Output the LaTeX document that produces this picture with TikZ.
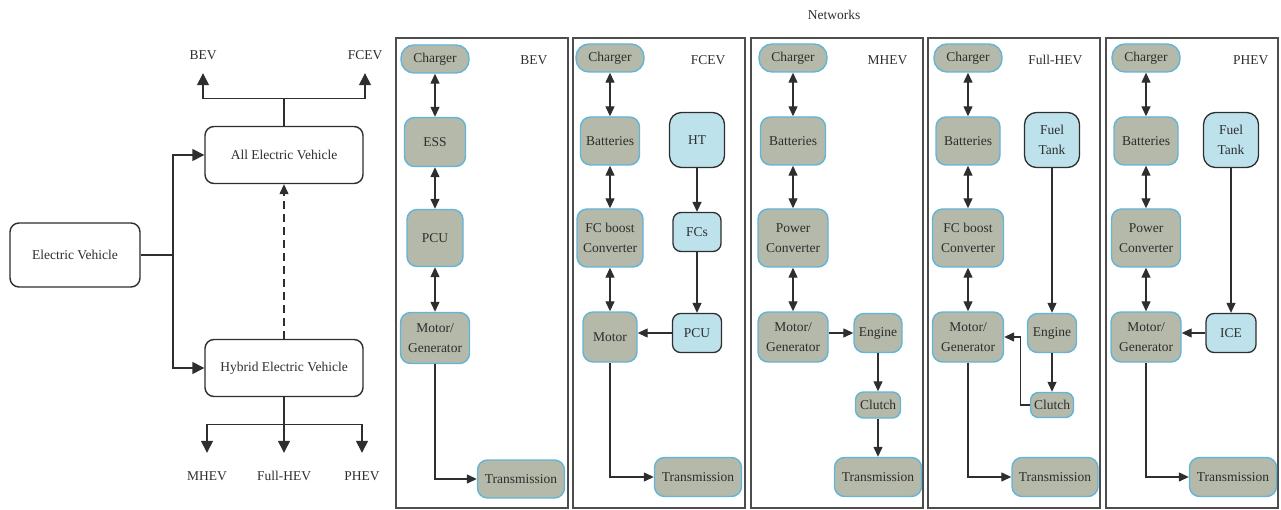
\documentclass[tikz,border=0pt]{standalone}
\usepackage{fontspec}
\setmainfont{Liberation Serif}
\usepackage{xcolor}
\usepackage{tikz}
\usetikzlibrary{arrows.meta,calc}

\definecolor{compfill}{HTML}{B4B9A9}
\definecolor{compedge}{HTML}{62B4D8}
\definecolor{fuelfill}{HTML}{BDE2EC}
\definecolor{inkgray}{HTML}{2E2E2E}

\tikzset{
  evbox/.style={draw=inkgray, line width=1.4pt, rounded corners=9pt, fill=white, text=inkgray},
  unit/.style={draw=compedge, line width=1.4pt, fill=compfill, rounded corners=10pt, text=inkgray, align=center, inner sep=2pt},
  charger/.style={unit, rounded corners=13pt, minimum width=68pt, minimum height=28pt},
  fuel/.style={draw=inkgray, line width=1.3pt, fill=fuelfill, rounded corners=10pt, text=inkgray, align=center, inner sep=2pt},
  boxsize/.style 2 args={minimum width=#1pt, minimum height=#2pt},
  flow/.style={draw=inkgray, line width=1.3pt, -{Triangle[length=10pt,width=9pt]}},
  twoway/.style={flow, {Triangle[length=10pt,width=9pt]}-{Triangle[length=10pt,width=9pt]}},
  branch/.style={draw=inkgray, line width=1.4pt, -{Triangle[length=12pt,width=12pt]}},
  leaf/.style={text=inkgray, text height=9pt, text depth=0pt, inner sep=3pt},
  panel/.style={draw=inkgray!85, line width=1.2pt},
}

\begin{document}
\begin{tikzpicture}[x=1pt, y=-1pt, font=\fontsize{13.5}{19.5}\selectfont]
    \useasboundingbox (0,0) rectangle (1281,510);

    % Classification tree
    \node[evbox, boxsize={130}{64}] (ev) at (75,255) {Electric Vehicle};
    \node[evbox, boxsize={158}{57}] (aev) at (284,155) {All Electric Vehicle};
    \node[evbox, boxsize={158}{57}] (hev) at (284,368) {Hybrid Electric Vehicle};
    \coordinate (split) at (173,255);

    \node[leaf] (lbev) at (203,55) {BEV};
    \node[leaf] (lfcev) at (365,55) {FCEV};
    \node[leaf] (lmhev) at (207,476) {MHEV};
    \node[leaf] (lfull) at (284,476) {Full-HEV};
    \node[leaf] (lphev) at (362,476) {PHEV};

    \draw[branch] (ev.east) -- (split) |- (aev.west);
    \draw[branch] (split) |- (hev.west);
    \draw[flow, dash pattern=on 8pt off 5pt] (hev.north) -- (aev.south);
    \draw[branch, shorten >=10.5pt] (aev.north) -- ++(0,-27) -| (lbev.south);
    \draw[branch, shorten >=10.5pt] (aev.north) -- ++(0,-27) -| (lfcev.south);
    \draw[branch, shorten >=15.5pt] (hev.south) -- ++(0,27) -| (lmhev.north);
    \draw[branch, shorten >=15.5pt] (hev.south) -- (lfull.north);
    \draw[branch, shorten >=15.5pt] (hev.south) -- ++(0,27) -| (lphev.north);

    % Networks
    \node[text=inkgray] (net) at (834,15) {Networks};
    \foreach \px/\vname/\lx in {396/BEV/551, 573/FCEV/729, 751/MHEV/911, 928/Full-HEV/1086, 1106/PHEV/1272} {
        \draw[panel] (\px,38) rectangle (\px+172,508);
        \node[anchor=east, text=inkgray] (tag\vname) at (\lx,60) {\vname};
    }

    % BEV
    \node[charger] (bchg) at (435,59) {Charger};
    \node[unit, boxsize={61}{49}] (bess) at (435,142) {ESS};
    \node[unit, boxsize={56}{57}] (bpcu) at (435,238) {PCU};
    \node[unit, boxsize={69}{51}] (bmot) at (435,338) {Motor/\\Generator};
    \node[unit, boxsize={87}{38}] (btra) at (521,479) {Transmission};

    % FCEV
    \node[charger] (fchg) at (610,58) {Charger};
    \node[unit, boxsize={59}{48}] (fbat) at (610,141) {Batteries};
    \node[fuel, boxsize={55}{55}, rounded corners=12pt] (fht) at (697,140) {HT};
    \node[unit, boxsize={66}{58}] (fboo) at (610,238) {FC boost\\Converter};
    \node[fuel, boxsize={48}{39}, rounded corners=8pt] (ffcs) at (697,232) {FCs};
    \node[unit, boxsize={54}{50}] (fmot) at (610,337) {Motor};
    \node[fuel, boxsize={49}{39}, rounded corners=8pt] (fpcu) at (697,333) {PCU};
    \node[unit, boxsize={87}{39}] (ftra) at (698,477) {Transmission};

    % MHEV
    \node[charger] (mchg) at (793,58) {Charger};
    \node[unit, boxsize={65}{48}] (mbat) at (793,141) {Batteries};
    \node[unit, boxsize={70}{58}] (mcon) at (793,238) {Power\\Converter};
    \node[unit, boxsize={70}{50}] (mmot) at (793,337) {Motor/\\Generator};
    \node[unit, boxsize={48}{39}] (meng) at (878,333) {Engine};
    \node[unit, boxsize={45}{26}, rounded corners=8pt] (mclu) at (878,405) {Clutch};
    \node[unit, boxsize={87}{39}] (mtra) at (878,477) {Transmission};

    % Full-HEV
    \node[charger] (hchg) at (968,58) {Charger};
    \node[unit, boxsize={64}{48}] (hbat) at (968,141) {Batteries};
    \node[fuel, boxsize={55}{55}, rounded corners=12pt] (htank) at (1052,140) {Fuel\\Tank};
    \node[unit, boxsize={71}{58}] (hboo) at (968,238) {FC boost\\Converter};
    \node[unit, boxsize={71}{50}] (hmot) at (968,337) {Motor/\\Generator};
    \node[unit, boxsize={49}{39}] (heng) at (1052,333) {Engine};
    \node[unit, boxsize={43}{25}, rounded corners=8pt] (hclu) at (1052,405) {Clutch};
    \node[unit, boxsize={86}{39}] (htra) at (1055,477) {Transmission};

    % PHEV
    \node[charger] (pchg) at (1146,58) {Charger};
    \node[unit, boxsize={64}{48}] (pbat) at (1146,141) {Batteries};
    \node[fuel, boxsize={55}{55}, rounded corners=12pt] (ptank) at (1231,140) {Fuel\\Tank};
    \node[unit, boxsize={69}{58}] (pcon) at (1146,238) {Power\\Converter};
    \node[unit, boxsize={70}{50}] (pmot) at (1146,337) {Motor/\\Generator};
    \node[fuel, boxsize={50}{39}, rounded corners=8pt] (pice) at (1231,333) {ICE};
    \node[unit, boxsize={87}{39}] (ptra) at (1233,477) {Transmission};

    % Connections
    \foreach \a/\b in {bchg/bess, bess/bpcu, bpcu/bmot, fchg/fbat, fbat/fboo, fboo/fmot,
                       mchg/mbat, mbat/mcon, mcon/mmot, hchg/hbat, hbat/hboo, hboo/hmot,
                       pchg/pbat, pbat/pcon, pcon/pmot}
        \draw[twoway] (\a) -- (\b);
    \foreach \m/\t in {bmot/btra, fmot/ftra, hmot/htra, pmot/ptra}
        \draw[flow] (\m.south) |- (\t.west);

    \draw[flow] (fht) -- (ffcs);
    \draw[flow] (ffcs) -- (fpcu);
    \draw[flow] (fpcu.west) -- (fpcu.west -| fmot.east);
    \draw[flow] (mmot.east |- meng.west) -- (meng.west);
    \draw[flow] (meng) -- (mclu);
    \draw[flow] (mclu) -- (mtra);
    \draw[flow] (htank) -- (heng);
    \draw[flow] (heng) -- (hclu);
    \draw[flow] (hclu.west) -- ++(-9,0) |- (hmot.east);
    \draw[flow] (ptank) -- (pice);
    \draw[flow] (pice.west) -- (pice.west -| pmot.east);
\end{tikzpicture}
\end{document}
